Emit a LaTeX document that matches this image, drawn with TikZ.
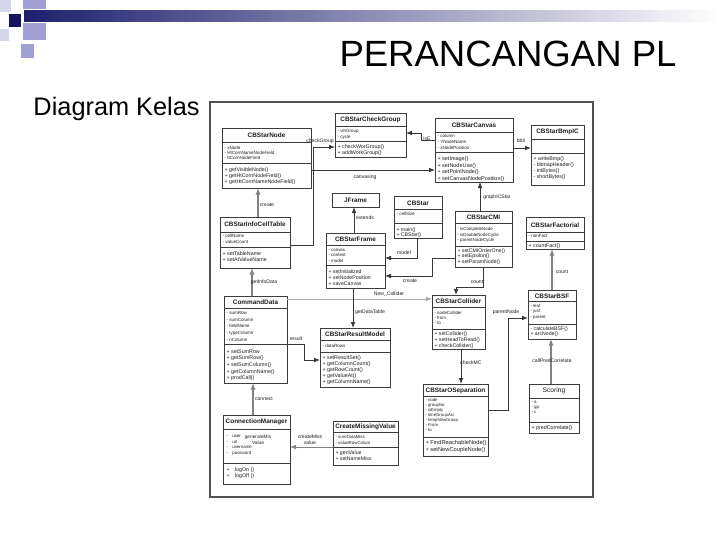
\documentclass[tikz,border=0pt]{standalone}
\usepackage{fontspec}
\setmainfont{Liberation Sans}
\usetikzlibrary{arrows.meta,fit}

\definecolor{barnavy}{RGB}{30,30,110}
\definecolor{pixlav}{RGB}{160,160,210}
\definecolor{pixpale}{RGB}{215,215,236}
\definecolor{pixnavy}{RGB}{20,20,95}
\definecolor{framegray}{RGB}{80,80,80}
\definecolor{boxgray}{RGB}{60,60,60}
\definecolor{txtgray}{RGB}{30,30,30}
\definecolor{linegray}{RGB}{55,55,55}
\definecolor{thickgray}{RGB}{130,130,130}

\tikzset{every picture/.style={line width=0.75pt}}
\tikzset{
  umlbox/.style={draw=boxgray, fill=white, line width=0.6pt, inner sep=0pt, outer sep=0pt},
  umlname/.style={font=\bfseries\fontsize{4.8}{5.5}\selectfont, text=txtgray, inner sep=0pt},
  umlattr/.style={anchor=north west, align=left, inner sep=0pt, text=txtgray, font=\fontsize{3.4}{4.5}\selectfont},
  umlop/.style={anchor=north west, align=left, inner sep=0pt, text=txtgray, font=\fontsize{4}{4.6}\selectfont},
  divline/.style={draw=boxgray, line width=0.6pt},
  assoc/.style={draw=linegray, line width=0.6pt, -{Latex[length=4.5pt,width=3.5pt]}},
  heavyassoc/.style={draw=thickgray, line width=1.5pt, -{Latex[length=5pt,width=4pt]}},
  linklabel/.style={font=\fontsize{3.8}{4.4}\selectfont, text=txtgray, inner sep=0pt},
}

\begin{document}
\lineskiplimit=-20pt
\begin{tikzpicture}[x=0.75pt,y=0.75pt,yscale=-1,xscale=1]
\useasboundingbox (0,0) rectangle (720,540);
\fill[white] (0,0) rectangle (720,540);

%Shape: header bar and squares
\shade[left color=barnavy, right color=white] (24,10) rectangle (720,21);
\fill[pixpale] (0,0) rectangle (11,12);
\fill[pixlav] (23,0) rectangle (46,9);
\fill[pixnavy] (9,14) rectangle (21,27);
\fill[pixlav] (23,23) rectangle (46,40);
\fill[pixpale] (0,29) rectangle (9,41);
\fill[pixlav] (21,44) rectangle (34,58);

% Text Node
\node[anchor=base west, inner sep=0pt, font=\fontsize{27.4}{30}\selectfont] (title) at (339,66) {PERANCANGAN PL};
% Text Node
\node[anchor=base west, inner sep=0pt, font=\fontsize{19}{22}\selectfont] (subtitle) at (33,115) {Diagram Kelas};

%Shape: Rectangle (diagram frame)
\draw[framegray, line width=0.9pt] (210,102) rectangle (593,497);

%Class: CBStarNode
\node[umlbox, fit={(222,128) (311,188)}] (starnode) {};
\node[umlname] (starnode-t) at (266.5,135) {CBStarNode};
\draw[divline] (starnode.west |- 0,142) -- (starnode.east |- 0,142);
\draw[divline] (starnode.west |- 0,163) -- (starnode.east |- 0,163);
\node[umlattr, font=\fontsize{3.4}{3.6}\selectfont] (starnode-a) at (224,146) {- xNode\\- HtCornNameNodeField\\- ttCornNodeField};
\node[umlop, font=\fontsize{4}{4.5}\selectfont] (starnode-o) at (224,167) {+ getVisibleNode()\\+ getHtCornNodeField()\\+ getHtCornNameNodeField()};

%Class: CBStarCheckGroup
\node[umlbox, fit={(335,113) (406,157)}] (checkgroup) {};
\node[umlname] (checkgroup-t) at (370.5,119.5) {CBStarCheckGroup};
\draw[divline] (checkgroup.west |- 0,126) -- (checkgroup.east |- 0,126);
\draw[divline] (checkgroup.west |- 0,141) -- (checkgroup.east |- 0,141);
\node[umlattr] (checkgroup-a) at (337,129) {- vlnGroup\\- cycle};
\node[umlop, font=\fontsize{4}{4.5}\selectfont] (checkgroup-o) at (337,144) {+ checkWorGroup()\\+ addWorkGroup()};

%Class: CBStarCanvas
\node[umlbox, fit={(435,118) (513,182)}] (canvas) {};
\node[umlname] (canvas-t) at (474,125) {CBStarCanvas};
\draw[divline] (canvas.west |- 0,132) -- (canvas.east |- 0,132);
\draw[divline] (canvas.west |- 0,152) -- (canvas.east |- 0,152);
\node[umlattr] (canvas-a) at (437,134) {- column\\- YNodeName\\- xNodePosition};
\node[umlop, font=\fontsize{4.1}{4.9}\selectfont] (canvas-o) at (437,156) {+ setImage()\\+ setNodeUse()\\+ setPointNode()\\+ setCanvasNodePosition()};

%Class: CBStarBmpIC
\node[umlbox, fit={(531,125) (584,185)}] (bmpic) {};
\node[umlname] (bmpic-t) at (557.5,132) {CBStarBmpIC};
\draw[divline] (bmpic.west |- 0,139) -- (bmpic.east |- 0,139);
\draw[divline] (bmpic.west |- 0,153) -- (bmpic.east |- 0,153);
\node[umlattr] (bmpic-a) at (533,141) {-};
\node[umlop, font=\fontsize{4}{4.5}\selectfont] (bmpic-o) at (533,156) {+ writeBmp()\\- bitmapHeader()\\- intBytes()\\- shortBytes()};

%Class: JFrame
\node[umlbox, fit={(332,193) (379,207)}] (jframe) {};
\node[umlname] (jframe-t) at (355.5,200) {JFrame};

%Class: CBStar
\node[umlbox, fit={(394,196) (442,238)}] (cbstar) {};
\node[umlname] (cbstar-t) at (418,203) {CBStar};
\draw[divline] (cbstar.west |- 0,209) -- (cbstar.east |- 0,209);
\draw[divline] (cbstar.west |- 0,223) -- (cbstar.east |- 0,223);
\node[umlattr] (cbstar-a) at (396,212) {- cellSize};
\node[umlop, font=\fontsize{3.9}{3.75}\selectfont] (cbstar-o) at (396,227) {+ main()\\+ CBStar()};

%Class: CBStarCMI
\node[umlbox, fit={(455,211) (512,267)}] (cmi) {};
\node[umlname] (cmi-t) at (483.5,217) {CBStarCMI};
\draw[divline] (cmi.west |- 0,223) -- (cmi.east |- 0,223);
\draw[divline] (cmi.west |- 0,246) -- (cmi.east |- 0,246);
\node[umlattr, font=\fontsize{3.3}{4.1}\selectfont] (cmi-a) at (457,227) {- isCompleteNode\\- isDoubleNodeCycle\\- parentNodeCycle};
\node[umlop, font=\fontsize{3.9}{4.1}\selectfont] (cmi-o) at (457,248) {+ setCMIOrderOne()\\+ setEpsilon()\\+ setParamNode()};

%Class: CBStarFactorial
\node[umlbox, fit={(526,217) (584,249)}] (factorial) {};
\node[umlname] (factorial-t) at (555,225) {CBStarFactorial};
\draw[divline] (factorial.west |- 0,232) -- (factorial.east |- 0,232);
\draw[divline] (factorial.west |- 0,241) -- (factorial.east |- 0,241);
\node[umlattr] (factorial-a) at (528,234) {- nonFact};
\node[umlop] (factorial-o) at (528,243) {+ countFact()};

%Class: CBStarInfoCellTable
\node[umlbox, fit={(220,217) (290,268)}] (infocell) {};
\node[umlname] (infocell-t) at (255,224.5) {CBStarInfoCellTable};
\draw[divline] (infocell.west |- 0,232) -- (infocell.east |- 0,232);
\draw[divline] (infocell.west |- 0,247) -- (infocell.east |- 0,247);
\node[umlattr] (infocell-a) at (222,234) {- cellName\\- valueCount};
\node[umlop, font=\fontsize{4}{4.9}\selectfont] (infocell-o) at (222,251) {+ setTableName\\+ setAtValueName};

%Class: CBStarFrame
\node[umlbox, fit={(326,233) (385,288)}] (frame) {};
\node[umlname] (frame-t) at (355.5,239.5) {CBStarFrame};
\draw[divline] (frame.west |- 0,245) -- (frame.east |- 0,245);
\draw[divline] (frame.west |- 0,265) -- (frame.east |- 0,265);
\node[umlattr, font=\fontsize{3.3}{4.1}\selectfont] (frame-a) at (328,248.5) {- canvas\\- content\\- model};
\node[umlop, font=\fontsize{3.9}{4.5}\selectfont] (frame-o) at (328,269) {+ setInitialized\\+ setNodePosition\\+ saveCanvas};

%Class: CommandData
\node[umlbox, fit={(224,296) (287,383)}] (cmddata) {};
\node[umlname] (cmddata-t) at (255.5,302.5) {CommandData};
\draw[divline] (cmddata.west |- 0,308) -- (cmddata.east |- 0,308);
\draw[divline] (cmddata.west |- 0,344) -- (cmddata.east |- 0,344);
\node[umlattr, font=\fontsize{3.4}{5}\selectfont] (cmddata-a) at (226,311) {- sumRow\\- sumColumn\\- fieldName\\- typeColumn\\- nColumn};
\node[umlop, font=\fontsize{4}{5}\selectfont] (cmddata-o) at (226,349) {+ setSumRow\\+ getSumRow()\\+ setSumColumn()\\+ getColumnName()\\+ prodCall()};

%Class: CBStarCollider
\node[umlbox, fit={(432,295) (485,349)}] (collider) {};
\node[umlname] (collider-t) at (458.5,301.5) {CBStarCollider};
\draw[divline] (collider.west |- 0,307) -- (collider.east |- 0,307);
\draw[divline] (collider.west |- 0,329) -- (collider.east |- 0,329);
\node[umlattr, font=\fontsize{3.3}{3.75}\selectfont] (collider-a) at (434,311) {- nodeCollider\\- from\\- to};
\node[umlop, font=\fontsize{3.9}{4.5}\selectfont] (collider-o) at (434,331) {+ setCollider()\\+ setHeadToRead()\\+ checkCollider()};

%Class: CBStarBSF
\node[umlbox, fit={(528,290) (576,339)}] (bsf) {};
\node[umlname] (bsf-t) at (552,296) {CBStarBSF};
\draw[divline] (bsf.west |- 0,301) -- (bsf.east |- 0,301);
\draw[divline] (bsf.west |- 0,324) -- (bsf.east |- 0,324);
\node[umlattr, font=\fontsize{3.3}{4.1}\selectfont] (bsf-a) at (530,303.5) {- leaf\\- just\\- parent};
\node[umlop, font=\fontsize{3.9}{3.75}\selectfont] (bsf-o) at (530,326) {- calculateBSF()\\+ arcNode()};

%Class: CBStarResultModel
\node[umlbox, fit={(320,328) (390,387)}] (result) {};
\node[umlname] (result-t) at (355,334) {CBStarResultModel};
\draw[divline] (result.west |- 0,340) -- (result.east |- 0,340);
\draw[divline] (result.west |- 0,352) -- (result.east |- 0,352);
\node[umlattr] (result-a) at (322,344) {- dataRows};
\node[umlop, font=\fontsize{4}{4.5}\selectfont] (result-o) at (322,355) {+ setResultSet()\\+ getColumnCount()\\+ getRowCount()\\+ getValueAt()\\+ getColumnName()};

%Class: CBStarOSeparation
\node[umlbox, fit={(423,384) (488,456)}] (osep) {};
\node[umlname] (osep-t) at (455.5,391) {CBStarOSeparation};
\draw[divline] (osep.west |- 0,396) -- (osep.east |- 0,396);
\draw[divline] (osep.west |- 0,437) -- (osep.east |- 0,437);
\node[umlattr, font=\fontsize{3.2}{3.75}\selectfont] (osep-a) at (425,398) {- node\\- groupNo\\- isEmpty\\- timeGroupArc\\- tempNewGroup\\- From\\- to};
\node[umlop, font=\fontsize{4.3}{5.25}\selectfont] (osep-o) at (425,440) {+ FindReachableNode()\\+ setNewCoupleNode()};

%Class: Scoring
\node[umlbox, fit={(529,384) (579,433)}] (scoring) {};
\node[umlname, font=\fontsize{5}{5.5}\selectfont] (scoring-t) at (554,390.5) {Scoring};
\draw[divline] (scoring.west |- 0,398) -- (scoring.east |- 0,398);
\draw[divline] (scoring.west |- 0,422) -- (scoring.east |- 0,422);
\node[umlattr, font=\fontsize{3.3}{3.75}\selectfont] (scoring-a) at (531,401) {- a\\- gp\\- c};
\node[umlop] (scoring-o) at (531,425) {+ predCorrelate()};

%Class: ConnectionManager
\node[umlbox, fit={(223,415) (290,484)}] (connmgr) {};
\node[umlname] (connmgr-t) at (256.5,422) {ConnectionManager};
\draw[divline] (connmgr.west |- 0,429) -- (connmgr.east |- 0,429);
\draw[divline] (connmgr.west |- 0,463) -- (connmgr.east |- 0,463);
\node[umlattr, font=\fontsize{3.3}{4.1}\selectfont] (connmgr-a) at (226,435) {-\quad user\\-\quad url\\-\quad username\\-\quad password};
\node[umlattr, font=\fontsize{3.6}{4.4}\selectfont, align=center, anchor=center] (connmgr-x) at (258,440) {generateMis\\Value};
\node[umlop, font=\fontsize{4}{4.5}\selectfont] (connmgr-o) at (226,467) {+\quad logOn ()\\+\quad logOff ()};

%Class: CreateMissingValue
\node[umlbox, fit={(333,421) (398,465)}] (createmiss) {};
\node[umlname] (createmiss-t) at (365.5,427) {CreateMissingValue};
\draw[divline] (createmiss.west |- 0,432) -- (createmiss.east |- 0,432);
\draw[divline] (createmiss.west |- 0,447) -- (createmiss.east |- 0,447);
\node[umlattr, font=\fontsize{3.3}{4.1}\selectfont] (createmiss-a) at (335,435) {- sumDataMiss\\- valueRowColum};
\node[umlop, font=\fontsize{3.9}{4.5}\selectfont] (createmiss-o) at (335,450) {+ genValue\\+ setNameMiss};

%Connectors
\draw[assoc] (infocell.east |- 0,245) -| (313,147) -- (checkgroup.west |- 0,147);
\node[linklabel] (lbl-checkgroup) at (320,141) {checkGroup};
\draw[assoc] (starnode.east |- 0,170) -- (canvas.west |- 0,170);
\node[linklabel] (lbl-canvasing) at (365,177) {canvasing};
\draw[assoc] (canvas.west |- 0,140) -| (421,133) -- (checkgroup.east |- 0,133);
\node[linklabel] (lbl-ise) at (427,139) {isE};
\draw[assoc] (canvas.east |- 0,148) -- (bmpic.west |- 0,148);
\node[linklabel] (lbl-bmp) at (521,141) {bbit};
\draw[assoc] (cmi.north -| 480,0) -- (canvas.south -| 480,0);
\node[linklabel] (lbl-graph) at (497,197) {graphICStar};
\draw[assoc] (frame.north -| 354,0) -- (jframe.south -| 354,0);
\node[linklabel] (lbl-extends) at (365,218) {extends};
\draw[heavyassoc] (infocell.north -| 258,0) -- (starnode.south -| 258,0);
\node[linklabel] (lbl-create1) at (267,205) {create};
\draw[assoc] (cbstar.south -| 417,0) |- (frame.east |- 0,258);
\node[linklabel] (lbl-model) at (404,253) {model};
\draw[assoc] (cmi.west |- 0,258) -| (432,276) -- (frame.east |- 0,276);
\node[linklabel] (lbl-create2) at (410,281) {create};
\draw[assoc] (cmi.south -| 483,0) |- (456,287) -- (collider.north -| 456,0);
\node[linklabel] (lbl-count1) at (477,282) {count};
\draw[heavyassoc] (bsf.north -| 552,0) -- (factorial.south -| 552,0);
\node[linklabel] (lbl-count2) at (562,272) {count};
\draw[heavyassoc] (scoring.north -| 551,0) -- (bsf.south -| 551,0);
\node[linklabel] (lbl-pred) at (552,361) {callPredCorrelate};
\draw[assoc] (osep.east |- 0,410) -| (508,318) -- (bsf.west |- 0,318);
\node[linklabel] (lbl-parent) at (506,312) {parentNode};
\draw[assoc] (collider.south -| 461,0) -- (osep.north -| 461,0);
\node[linklabel] (lbl-checkmc) at (471,363) {checkMC};
\draw[assoc, draw=thickgray!70] (cmddata.east |- 0,299) -- (collider.west |- 0,299);
\node[linklabel] (lbl-newcol) at (389,294) {New\_Collider};
\draw[assoc] (frame.south -| 353,0) -- (result.north -| 353,0);
\node[linklabel] (lbl-datatable) at (370,312) {getDataTable};
\draw[heavyassoc] (cmddata.north -| 252,0) -- (infocell.south -| 252,0);
\node[linklabel] (lbl-infodata) at (264,282) {getInfoData};
\draw[assoc] (cmddata.east |- 0,344) -| (304,360) -- (result.west |- 0,360);
\node[linklabel] (lbl-result) at (296,339) {result};
\draw[heavyassoc] (connmgr.north -| 253,0) -- (cmddata.south -| 253,0);
\node[linklabel] (lbl-connect) at (264,399) {connect};
\draw[assoc, draw=thickgray] (createmiss.west |- 0,447) -- (connmgr.east |- 0,447);
\node[linklabel, align=center] (lbl-createmiss) at (310,440) {createMiss\\value};

\end{tikzpicture}
\end{document}
